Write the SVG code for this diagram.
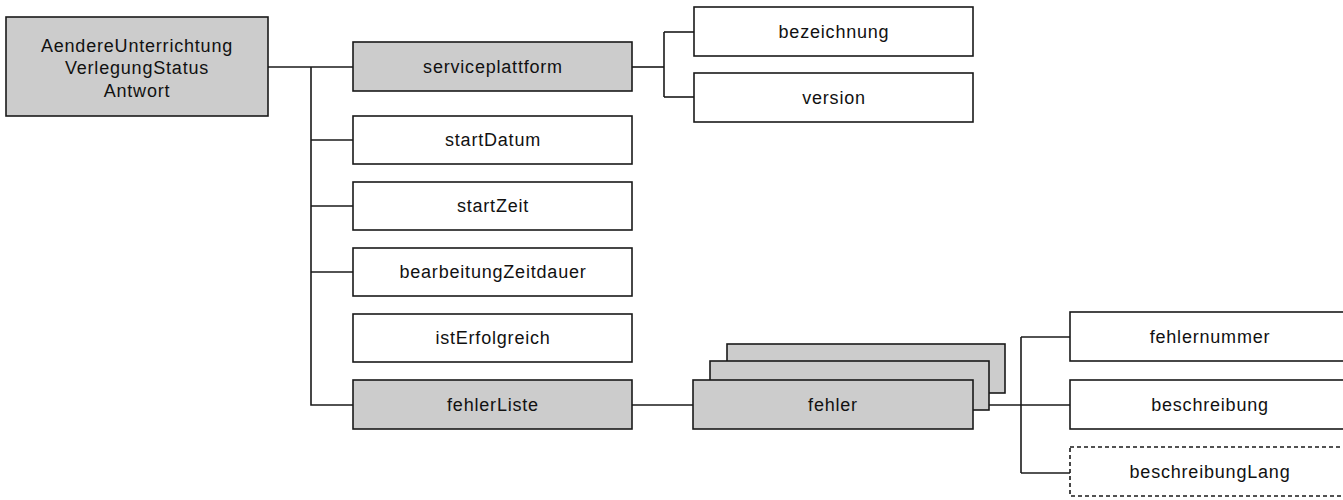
<svg xmlns="http://www.w3.org/2000/svg" width="1343" height="500" viewBox="0 0 1343 500">
<style>
.box{fill:#ffffff;stroke:#1a1a1a;stroke-width:1.6}
.grey{fill:#cccccc;stroke:#1a1a1a;stroke-width:1.6}
.opt{fill:#ffffff;stroke:#1a1a1a;stroke-width:1.6;stroke-dasharray:4 3}
.lbl{font-family:"Liberation Sans",Arial,sans-serif;font-size:18px;letter-spacing:0.8px;fill:#111111;text-anchor:middle}
.conn{fill:none;stroke:#1a1a1a;stroke-width:1.6}
</style>
<rect width="1343" height="500" fill="#ffffff"/>
<g id="connectors" class="conn">
<path d="M268,67 H353"/>
<path d="M311,67 V405 H353"/>
<path d="M311,140 H353"/>
<path d="M311,206 H353"/>
<path d="M311,272 H353"/>
<path d="M632,67 H664"/>
<path d="M664,32 V97"/>
<path d="M664,32 H694"/>
<path d="M664,97 H694"/>
<path d="M632,405 H693"/>
<path d="M973,405 H1070"/>
<path d="M1021,337 V473"/>
<path d="M1021,337 H1070"/>
<path d="M1021,473 H1070"/>
</g>
<g id="root">
<rect class="grey" x="6" y="17" width="262" height="99"/>
<text class="lbl" x="137" y="52">AendereUnterrichtung</text>
<text class="lbl" x="137" y="74">VerlegungStatus</text>
<text class="lbl" x="137" y="97">Antwort</text>
</g>
<g id="serviceplattform">
<rect class="grey" x="353" y="42" width="279" height="49"/>
<text class="lbl" x="493" y="73">serviceplattform</text>
</g>
<g id="startDatum">
<rect class="box" x="353" y="116" width="279" height="48"/>
<text class="lbl" x="493" y="146">startDatum</text>
</g>
<g id="startZeit">
<rect class="box" x="353" y="182" width="279" height="48"/>
<text class="lbl" x="493" y="212">startZeit</text>
</g>
<g id="bearbeitungZeitdauer">
<rect class="box" x="353" y="248" width="279" height="48"/>
<text class="lbl" x="493" y="278">bearbeitungZeitdauer</text>
</g>
<g id="istErfolgreich">
<rect class="box" x="353" y="314" width="279" height="48"/>
<text class="lbl" x="493" y="344">istErfolgreich</text>
</g>
<g id="fehlerListe">
<rect class="grey" x="353" y="380" width="279" height="49"/>
<text class="lbl" x="493" y="411">fehlerListe</text>
</g>
<g id="bezeichnung">
<rect class="box" x="694" y="7" width="279" height="49"/>
<text class="lbl" x="834" y="38">bezeichnung</text>
</g>
<g id="version">
<rect class="box" x="694" y="73" width="279" height="49"/>
<text class="lbl" x="834" y="104">version</text>
</g>
<g id="fehler">
<rect class="grey" x="727" y="344" width="278" height="49"/>
<rect class="grey" x="710" y="361" width="279" height="49"/>
<rect class="grey" x="693" y="380" width="280" height="49"/>
<text class="lbl" x="833" y="411">fehler</text>
</g>
<g id="fehlernummer">
<rect class="box" x="1070" y="312" width="279" height="49"/>
<text class="lbl" x="1210" y="343">fehlernummer</text>
</g>
<g id="beschreibung">
<rect class="box" x="1070" y="380" width="279" height="49"/>
<text class="lbl" x="1210" y="411">beschreibung</text>
</g>
<g id="beschreibungLang">
<rect class="opt" x="1070" y="447" width="279" height="49"/>
<text class="lbl" x="1210" y="478">beschreibungLang</text>
</g>
</svg>
